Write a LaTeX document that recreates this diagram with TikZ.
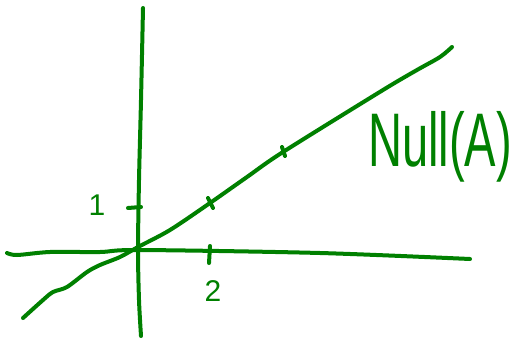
\documentclass[tikz,border=0pt]{standalone}
\usepackage{fontspec}
\setmainfont{Liberation Sans}
\begin{document}
\begin{tikzpicture}[
  x=0.5pt, y=-0.5pt,
  pen/.style={draw=green!50!black, line width=2pt, line cap=round, line join=round},
  tickmark/.style={pen},
  lbl/.style={text=green!50!black, font=\fontsize{15}{17}\selectfont, inner sep=0pt},
  biglbl/.style={text=green!50!black, font=\fontsize{38}{40}\selectfont,
                 inner sep=0pt, xscale=0.62, transform shape}
]
  \useasboundingbox (0,0) rectangle (517,342);

  % axes
  \draw[pen] plot[smooth] coordinates {(7,253) (17,255) (50,252) (100,252) (140,250) (320,253) (470,259)};
  \draw[pen] plot[smooth] coordinates {(143,8) (141,100) (139,180) (138,250) (139,300) (141,336)};

  % the line through the origin
  \draw[pen] plot[smooth] coordinates {(23,318) (43,300) (53,292) (67,287) (87,272)
    (100,265) (120,257) (138,247) (170,230) (210,203) (247,177) (283,152)
    (383,90) (417,70) (440,57) (452,47)};

  % ticks
  \draw[tickmark] (128,208) -- (141,207);
  \draw[tickmark] (210,246) -- (209,263);
  \draw[tickmark] (208,198) -- (213,208);
  \draw[tickmark] (282,147) -- (285,156);

  % labels
  \node[lbl] (one) at (97,205) {1};
  \node[lbl] (two) at (213,291) {2};
  \node[biglbl, anchor=base] (null) at (440,166) {Null(A)};
\end{tikzpicture}
\end{document}
